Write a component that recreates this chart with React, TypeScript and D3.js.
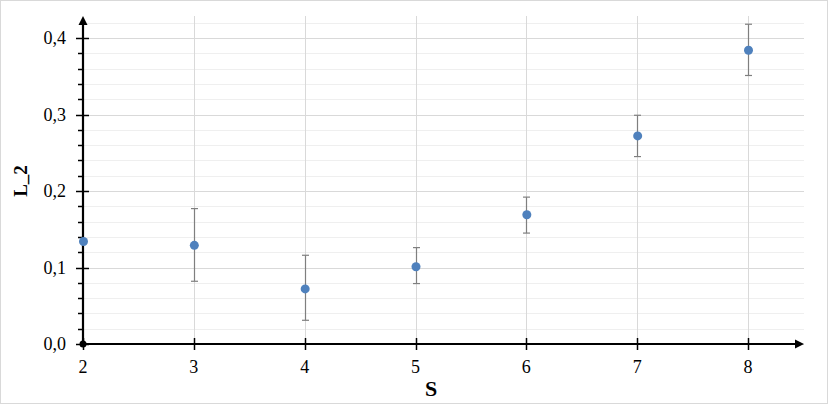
import React from "react";
import * as d3 from "d3";

const sValues = [2, 3, 4, 5, 6, 7, 8];
const l2Values = [0.134, 0.129, 0.072, 0.101, 0.169, 0.272, 0.384];
const errLow = [0.134, 0.082, 0.031, 0.079, 0.145, 0.245, 0.351];
const errHigh = [0.134, 0.177, 0.116, 0.126, 0.192, 0.299, 0.418];
const yTickLabels = ["0,0", "0,1", "0,2", "0,3", "0,4"];
const yTicks = [0, 0.1, 0.2, 0.3, 0.4];
const xTicks = [2, 3, 4, 5, 6, 7, 8];

const W = 828;
const H = 404;

export default function App() {
  const x = d3.scaleLinear().domain([2, 8]).range([83, 748]);
  const y = d3.scaleLinear().domain([0, 0.4]).range([344, 38]);
  const yTop = 16;
  const xRight = 804;
  const minor = d3.range(0, 0.4201, 0.02);
  const font = "'Liberation Serif', serif";

  return (
    <div style={{ position: "fixed", left: 0, top: 0 }}>
      <svg width={W} height={H} style={{ display: "block" }}>
        <rect x={0.5} y={0.5} width={W - 1} height={H - 1} fill="#fff" stroke="#d9d9d9" />
        {minor.map((v, i) => (
          <line key={"mg" + i} x1={83} x2={xRight} y1={Math.round(y(v)) + 0.5} y2={Math.round(y(v)) + 0.5}
            stroke={i % 5 === 0 ? "#d9d9d9" : "#efefef"} strokeWidth={1} />
        ))}
        {xTicks.slice(1).map((v) => (
          <line key={"vg" + v} x1={Math.round(x(v)) + 0.5} x2={Math.round(x(v)) + 0.5} y1={yTop} y2={344}
            stroke="#d9d9d9" strokeWidth={1} />
        ))}
        {minor.filter((_, i) => i % 5 !== 0 && i < 20).map((v, i) => (
          <line key={"mt" + i} x1={78} x2={83} y1={Math.round(y(v)) + 0.5} y2={Math.round(y(v)) + 0.5}
            stroke="#000" strokeWidth={1.5} />
        ))}
        {yTicks.map((v) => (
          <line key={"yt" + v} x1={76} x2={89} y1={Math.round(y(v)) + 0.5} y2={Math.round(y(v)) + 0.5}
            stroke="#000" strokeWidth={1.5} />
        ))}
        {xTicks.map((v) => (
          <line key={"xt" + v} x1={Math.round(x(v)) + 0.5} x2={Math.round(x(v)) + 0.5} y1={338} y2={350}
            stroke="#000" strokeWidth={1.5} />
        ))}
        <line x1={83} x2={796} y1={344} y2={344} stroke="#000" strokeWidth={2.2} />
        <line x1={83} x2={83} y1={344} y2={24} stroke="#000" strokeWidth={2.2} />
        <path d={`M${xRight},344 L795,339.5 L795,348.5 Z`} fill="#000" />
        <path d={`M83,${yTop} L78.5,25 L87.5,25 Z`} fill="#000" />
        <circle cx={83} cy={344} r={3.5} fill="#000" />
        {yTicks.map((v, i) => (
          <text key={"yl" + v} x={66} y={y(v)} dy="0.34em" textAnchor="end" fontFamily={font} fontSize={18} fill="#000">
            {yTickLabels[i]}
          </text>
        ))}
        {xTicks.map((v) => (
          <text key={"xl" + v} x={x(v)} y={373} textAnchor="middle" fontFamily={font} fontSize={18} fill="#000">
            {v}
          </text>
        ))}
        <text x={431} y={396} textAnchor="middle" fontFamily={font} fontSize={22} fontWeight="bold" fill="#000">S</text>
        <text transform="translate(27,181) rotate(-90)" textAnchor="middle" fontFamily={font} fontSize={19} fontWeight="bold" fill="#000">L_2</text>
        {sValues.map((s, i) => {
          if (errHigh[i] - errLow[i] < 0.001) return null;
          const cx = Math.round(x(s)) + 0.5;
          return (
            <g key={"eb" + s} stroke="#7f7f7f" strokeWidth={1.2}>
              <line x1={cx} x2={cx} y1={y(errLow[i])} y2={y(errHigh[i])} />
              <line x1={cx - 3.5} x2={cx + 3.5} y1={y(errLow[i])} y2={y(errLow[i])} />
              <line x1={cx - 3.5} x2={cx + 3.5} y1={y(errHigh[i])} y2={y(errHigh[i])} />
            </g>
          );
        })}
        {sValues.map((s, i) => (
          <circle key={"p" + s} cx={x(s) + 0.5} cy={y(l2Values[i])} r={4.5} fill="#4f81bd" />
        ))}
      </svg>
    </div>
  );
}
